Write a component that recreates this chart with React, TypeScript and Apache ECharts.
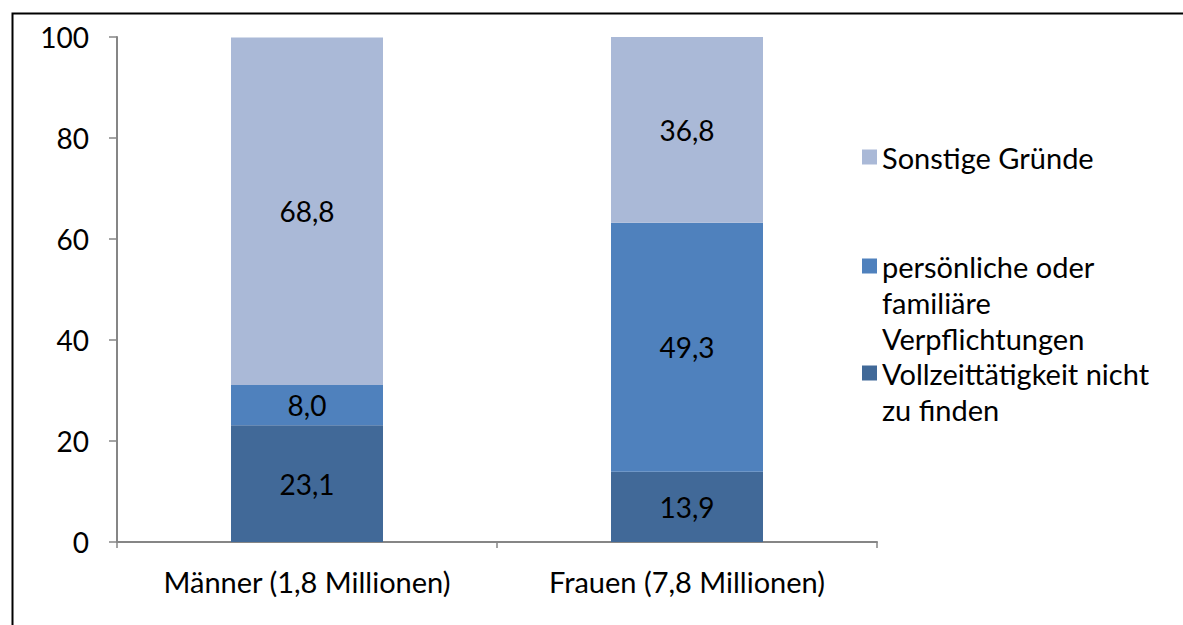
import React, { useEffect, useRef } from "react";
import * as echarts from "echarts";

const categories = ["Männer (1,8 Millionen)", "Frauen (7,8 Millionen)"];
const vollzeit = [23.1, 13.9];
const persoenlich = [8.0, 49.3];
const sonstige = [68.8, 36.8];
const yTicks = [0, 20, 40, 60, 80, 100];

const NAME_V = "Vollzeittätigkeit nicht zu finden";
const NAME_P = "persönliche oder familiäre Verpflichtungen";
const NAME_S = "Sonstige Gründe";

const FONT = "Lato";
const FS = 28;
const FS_TEXT = 29;

// blank leading lines keep the icon level with the first text line
const legendText: Record<string, string> = {
  [NAME_S]: "Sonstige Gründe",
  [NAME_P]: "\n\npersönliche oder\nfamiliäre\nVerpflichtungen",
  [NAME_V]: "\nVollzeittätigkeit nicht\nzu finden",
};

export default function App() {
  const ref = useRef<HTMLDivElement>(null);
  useEffect(() => {
    if (!ref.current) return;
    const chart = echarts.init(ref.current, null, { renderer: "svg" });
    const label = {
      show: true,
      position: "inside" as const,
      color: "#000",
      fontFamily: FONT,
      fontSize: FS,
      formatter: (p: any) => Number(p.value).toFixed(1).replace(".", ","),
    };
    const mkLegend = (name: string, top: number) => ({
      data: [name],
      orient: "vertical" as const,
      left: 862,
      top,
      padding: 0,
      itemWidth: 15,
      itemHeight: 15,
      itemGap: 0,
      icon: "rect",
      selectedMode: false,
      formatter: (n: string) => legendText[n],
      textStyle: {
        fontFamily: FONT,
        fontSize: FS_TEXT,
        color: "#000",
        lineHeight: 36,
      },
    });
    chart.setOption({
      animation: false,
      backgroundColor: "#fff",
      textStyle: { fontFamily: FONT },
      grid: { left: 117, right: 306, top: 37, bottom: 83, containLabel: false },
      legend: [
        mkLegend(NAME_S, 139),
        mkLegend(NAME_P, 176),
        mkLegend(NAME_V, 319),
      ],
      xAxis: {
        type: "category",
        data: categories,
        axisLine: { lineStyle: { color: "#868686", width: 2 } },
        axisTick: { show: true, length: 6, lineStyle: { color: "#868686", width: 1.5 } },
        axisLabel: { color: "#000", fontFamily: FONT, fontSize: FS_TEXT, margin: 25 },
      },
      yAxis: {
        type: "value",
        min: yTicks[0],
        max: yTicks[yTicks.length - 1],
        interval: 20,
        splitLine: { show: false },
        axisLine: { show: true, lineStyle: { color: "#868686", width: 2 } },
        axisTick: { show: true, length: 8, lineStyle: { color: "#868686", width: 1.5 } },
        axisLabel: { color: "#000", fontFamily: FONT, fontSize: FS, margin: 28 },
      },
      series: [
        {
          name: NAME_V,
          type: "bar",
          stack: "a",
          data: vollzeit,
          barWidth: "40%",
          itemStyle: { color: "#416998" },
          label,
        },
        {
          name: NAME_P,
          type: "bar",
          stack: "a",
          data: persoenlich,
          barWidth: "40%",
          itemStyle: { color: "#4F81BD" },
          label,
        },
        {
          name: NAME_S,
          type: "bar",
          stack: "a",
          data: sonstige,
          barWidth: "40%",
          itemStyle: { color: "#AAB9D7" },
          label,
        },
      ],
      graphic: [
        {
          type: "rect",
          left: 10,
          top: 11,
          shape: { x: 0, y: 0, width: 1200, height: 640 },
          style: { fill: "none", stroke: "#000", lineWidth: 2 },
          silent: true,
          z: 100,
        },
      ],
    });
    return () => chart.dispose();
  }, []);
  return (
    <div
      ref={ref}
      style={{ position: "fixed", left: 0, top: 0, width: 1183, height: 625 }}
    />
  );
}
